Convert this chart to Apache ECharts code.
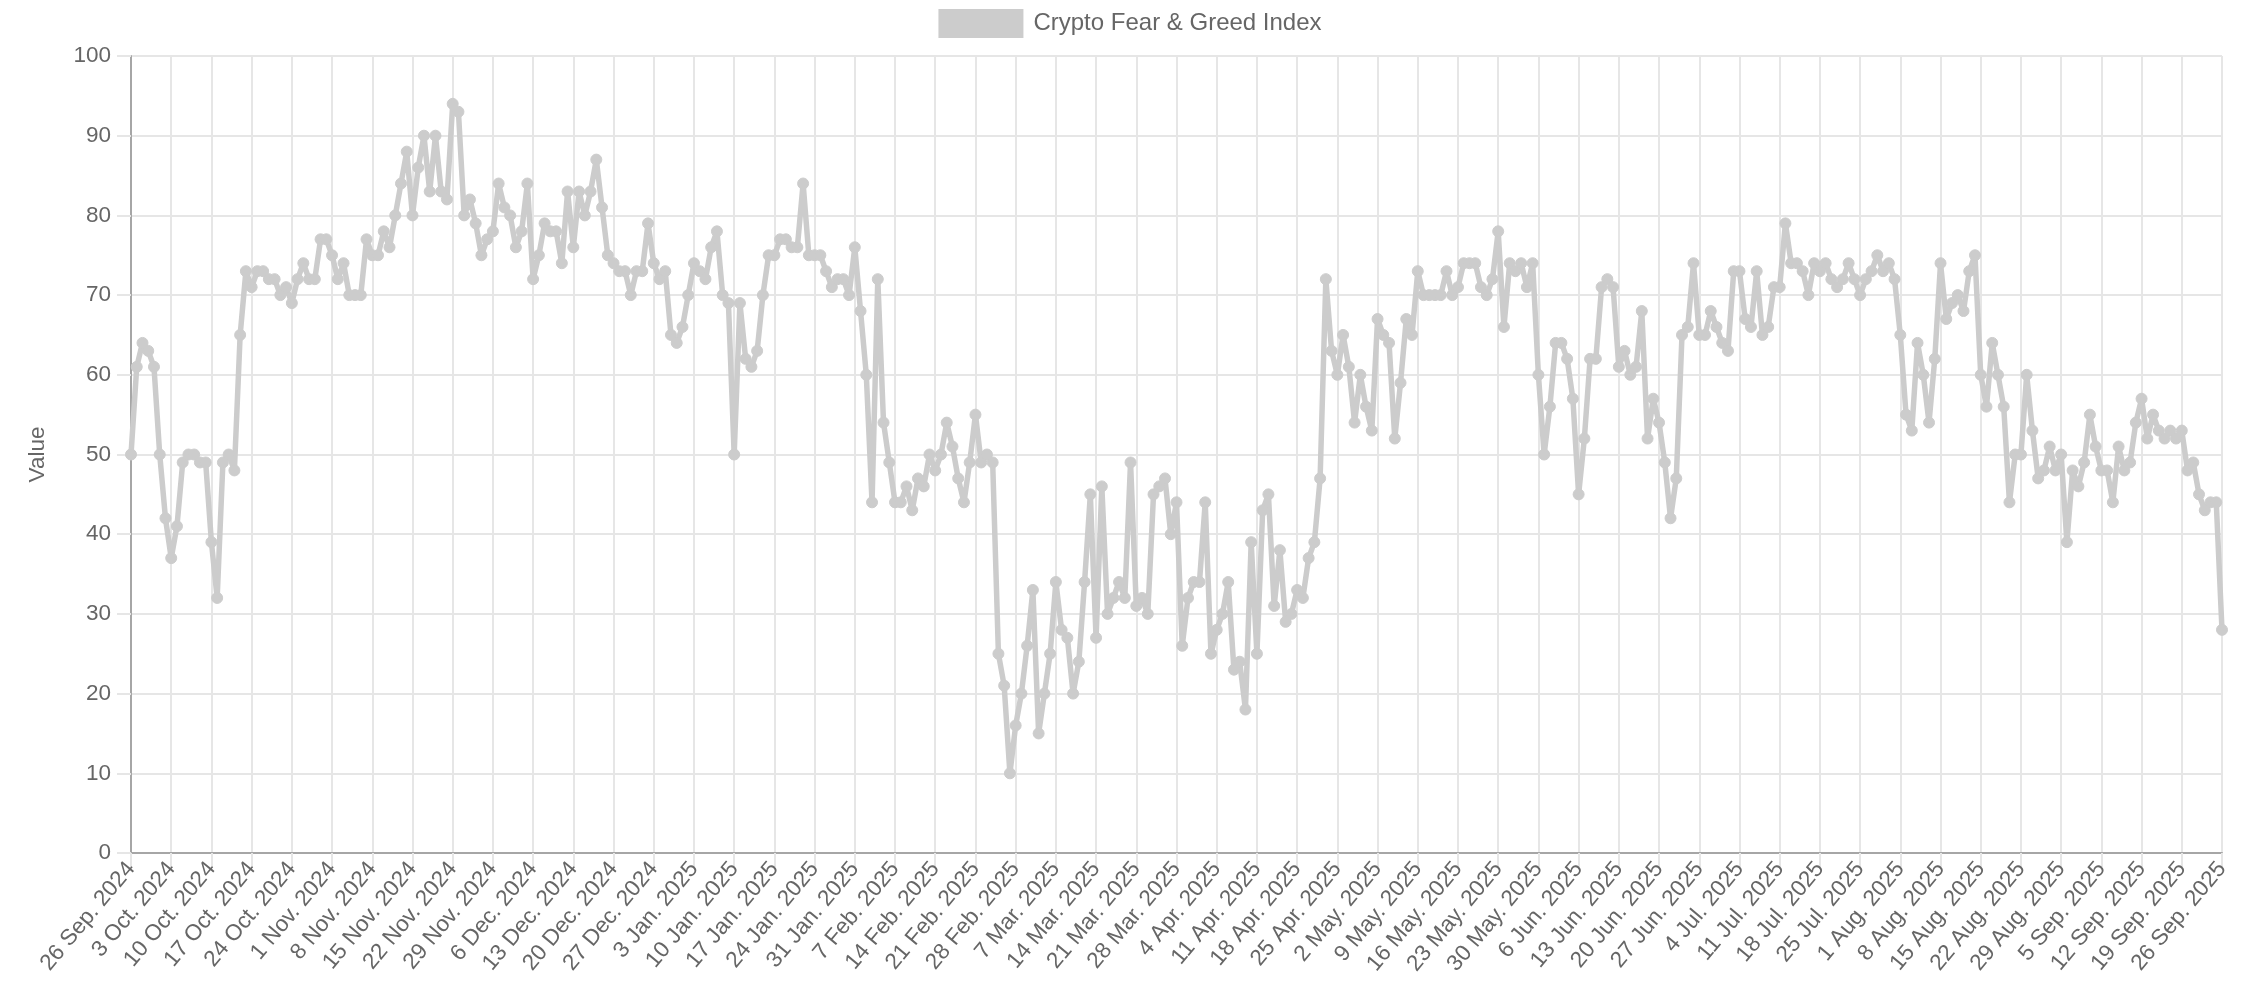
<!DOCTYPE html>
<html>
<head>
<meta charset="utf-8">
<script src="https://cdn.jsdelivr.net/npm/echarts@6/dist/echarts.min.js"></script>
<style>
  html, body { margin: 0; padding: 0; background: #fff; }
  #chart { width: 2260px; height: 1006px; }
</style>
</head>
<body>
<div id="chart"></div>
<script>
// Daily values, in blocks (block start date in the name)
const fg_2024_09_26 = [50,61,64,63,61,50,42,37,41,49,50,50,49,49,39,32,49,50,48,65,73,71,73,73,72,72,70,71,69,72,74,72,72];
const fg_2024_10_30 = [77,77,75,72,74,70,70,70,77,75,75,78,76,80,84,88,80,86,90,83,90,83,82,94,93,80,82,79,75,77,78,84,81];
const fg_2024_12_02 = [80,76,78,84,72,75,79,78,78,74,83,76,83,80,83,87,81,75,74,73,73,70,73,73,79,74,72,73,65,64,66,70,74];
const fg_2025_01_04 = [73,72,76,78,70,69,50,69,62,61,63,70,75,75,77,77,76,76,84,75,75,75,73,71,72,72,70,76,68,60,44,72,54,49];
const fg_2025_02_07 = [44,44,46,43,47,46,50,48,50,54,51,47,44,49,55,49,50,49,25,21,10,16,20,26,33,15,20,25,34,28,27,20,24];
const fg_2025_03_12 = [34,45,27,46,30,32,34,32,49,31,32,30,45,46,47,40,44,26,32,34,34,44,25,28,30,34,23,24,18,39,25,43,45];
const fg_2025_04_14 = [31,38,29,30,33,32,37,39,47,72,63,60,65,61,54,60,56,53,67,65,64,52,59,67,65,73,70,70,70,70,73,70,71];
const fg_2025_05_17 = [74,74,74,71,70,72,78,66,74,73,74,71,74,60,50,56,64,64,62,57,45,52,62,62,71,72,71,61,63,60,61,68,52];
const fg_2025_06_19 = [57,54,49,42,47,65,66,74,65,65,68,66,64,63,73,73,67,66,73,65,66,71,71,79,74,74,73,70,74,73,74,72,71];
const fg_2025_07_22 = [72,74,72,70,72,73,75,73,74,72,65,55,53,64,60,54,62,74,67,69,70,68,73,75,60,56,64,60,56,44,50];
const fg_2025_08_22 = [50,60,53,47,48,51,48,50,39,48,46,49,55,51,48,48,44,51,48,49,54,57,52,55,53,52,53,52,53,48,49,45,43,44,44,28];

const seriesName = 'Crypto Fear & Greed Index';
const yTicks = [0,10,20,30,40,50,60,70,80,90,100];
const monthNames = ['Jan.','Feb.','Mar.','Apr.','May.','Jun.','Jul.','Aug.','Sep.','Oct.','Nov.','Dec.'];
const startDate = [2024, 8, 26];      // 26 Sep. 2024
const skippedDate = '27 Oct. 2024';   // day absent from the source series

const values = [].concat(fg_2024_09_26, fg_2024_10_30, fg_2024_12_02, fg_2025_01_04,
  fg_2025_02_07, fg_2025_03_12, fg_2025_04_14, fg_2025_05_17, fg_2025_06_19,
  fg_2025_07_22, fg_2025_08_22);

// category labels (one per day)
const dates = [];
{
  const d = new Date(startDate[0], startDate[1], startDate[2], 12);
  while (dates.length < values.length) {
    const s = d.getDate() + ' ' + monthNames[d.getMonth()] + ' ' + d.getFullYear();
    if (s !== skippedDate) dates.push(s);
    d.setDate(d.getDate() + 1);
  }
}

const FONT = '"Liberation Sans", Arial, Helvetica, sans-serif';
const TXT = '#666666';
const GRID = '#e6e6e6';
const FS = 22.5;

const chart = echarts.init(document.getElementById('chart'), null, { renderer: 'canvas' });
chart.setOption({
  animation: false,
  textStyle: { fontFamily: FONT },
  legend: {
    top: 4,
    left: 'center',
    itemWidth: 85,
    itemHeight: 29,
    itemGap: 20,
    icon: 'rect',
    textStyle: { color: TXT, fontSize: 24, fontFamily: FONT, padding: [0, 0, 0, 5] },
    data: [{ name: seriesName, itemStyle: { color: '#cccccc', borderColor: '#cccccc' } }]
  },
  grid: { left: 131, right: 38, top: 56, bottom: 153, containLabel: false },
  xAxis: {
    type: 'category',
    data: dates,
    boundaryGap: false,
    axisLine: { show: true, lineStyle: { color: '#a6a6a6', width: 2 } },
    axisTick: { show: true, interval: 6, length: 14, lineStyle: { color: GRID, width: 2 } },
    axisLabel: { interval: 6, rotate: 50, color: TXT, fontSize: FS, fontFamily: FONT, margin: 12 },
    splitLine: { show: true, interval: 6, lineStyle: { color: GRID, width: 2 } }
  },
  yAxis: {
    type: 'value',
    min: yTicks[0],
    max: yTicks[yTicks.length - 1],
    interval: 10,
    name: 'Value',
    nameLocation: 'middle',
    nameGap: 82,
    nameRotate: 90,
    nameTextStyle: { color: TXT, fontSize: FS, fontFamily: FONT },
    axisLine: { show: true, lineStyle: { color: '#a6a6a6', width: 2 } },
    axisTick: { show: true, length: 14, lineStyle: { color: GRID, width: 2 } },
    axisLabel: { color: TXT, fontSize: FS, fontFamily: FONT, margin: 20 },
    splitLine: { show: true, lineStyle: { color: GRID, width: 2 } }
  },
  series: [{
    name: seriesName,
    type: 'line',
    data: values,
    smooth: false,
    symbol: 'circle',
    symbolSize: 11,
    showAllSymbol: true,
    lineStyle: { color: '#cccccc', width: 5.5 },
    itemStyle: { color: '#cccccc', borderColor: '#cccccc' },
    emphasis: { disabled: true }
  }]
});
</script>
</body>
</html>
